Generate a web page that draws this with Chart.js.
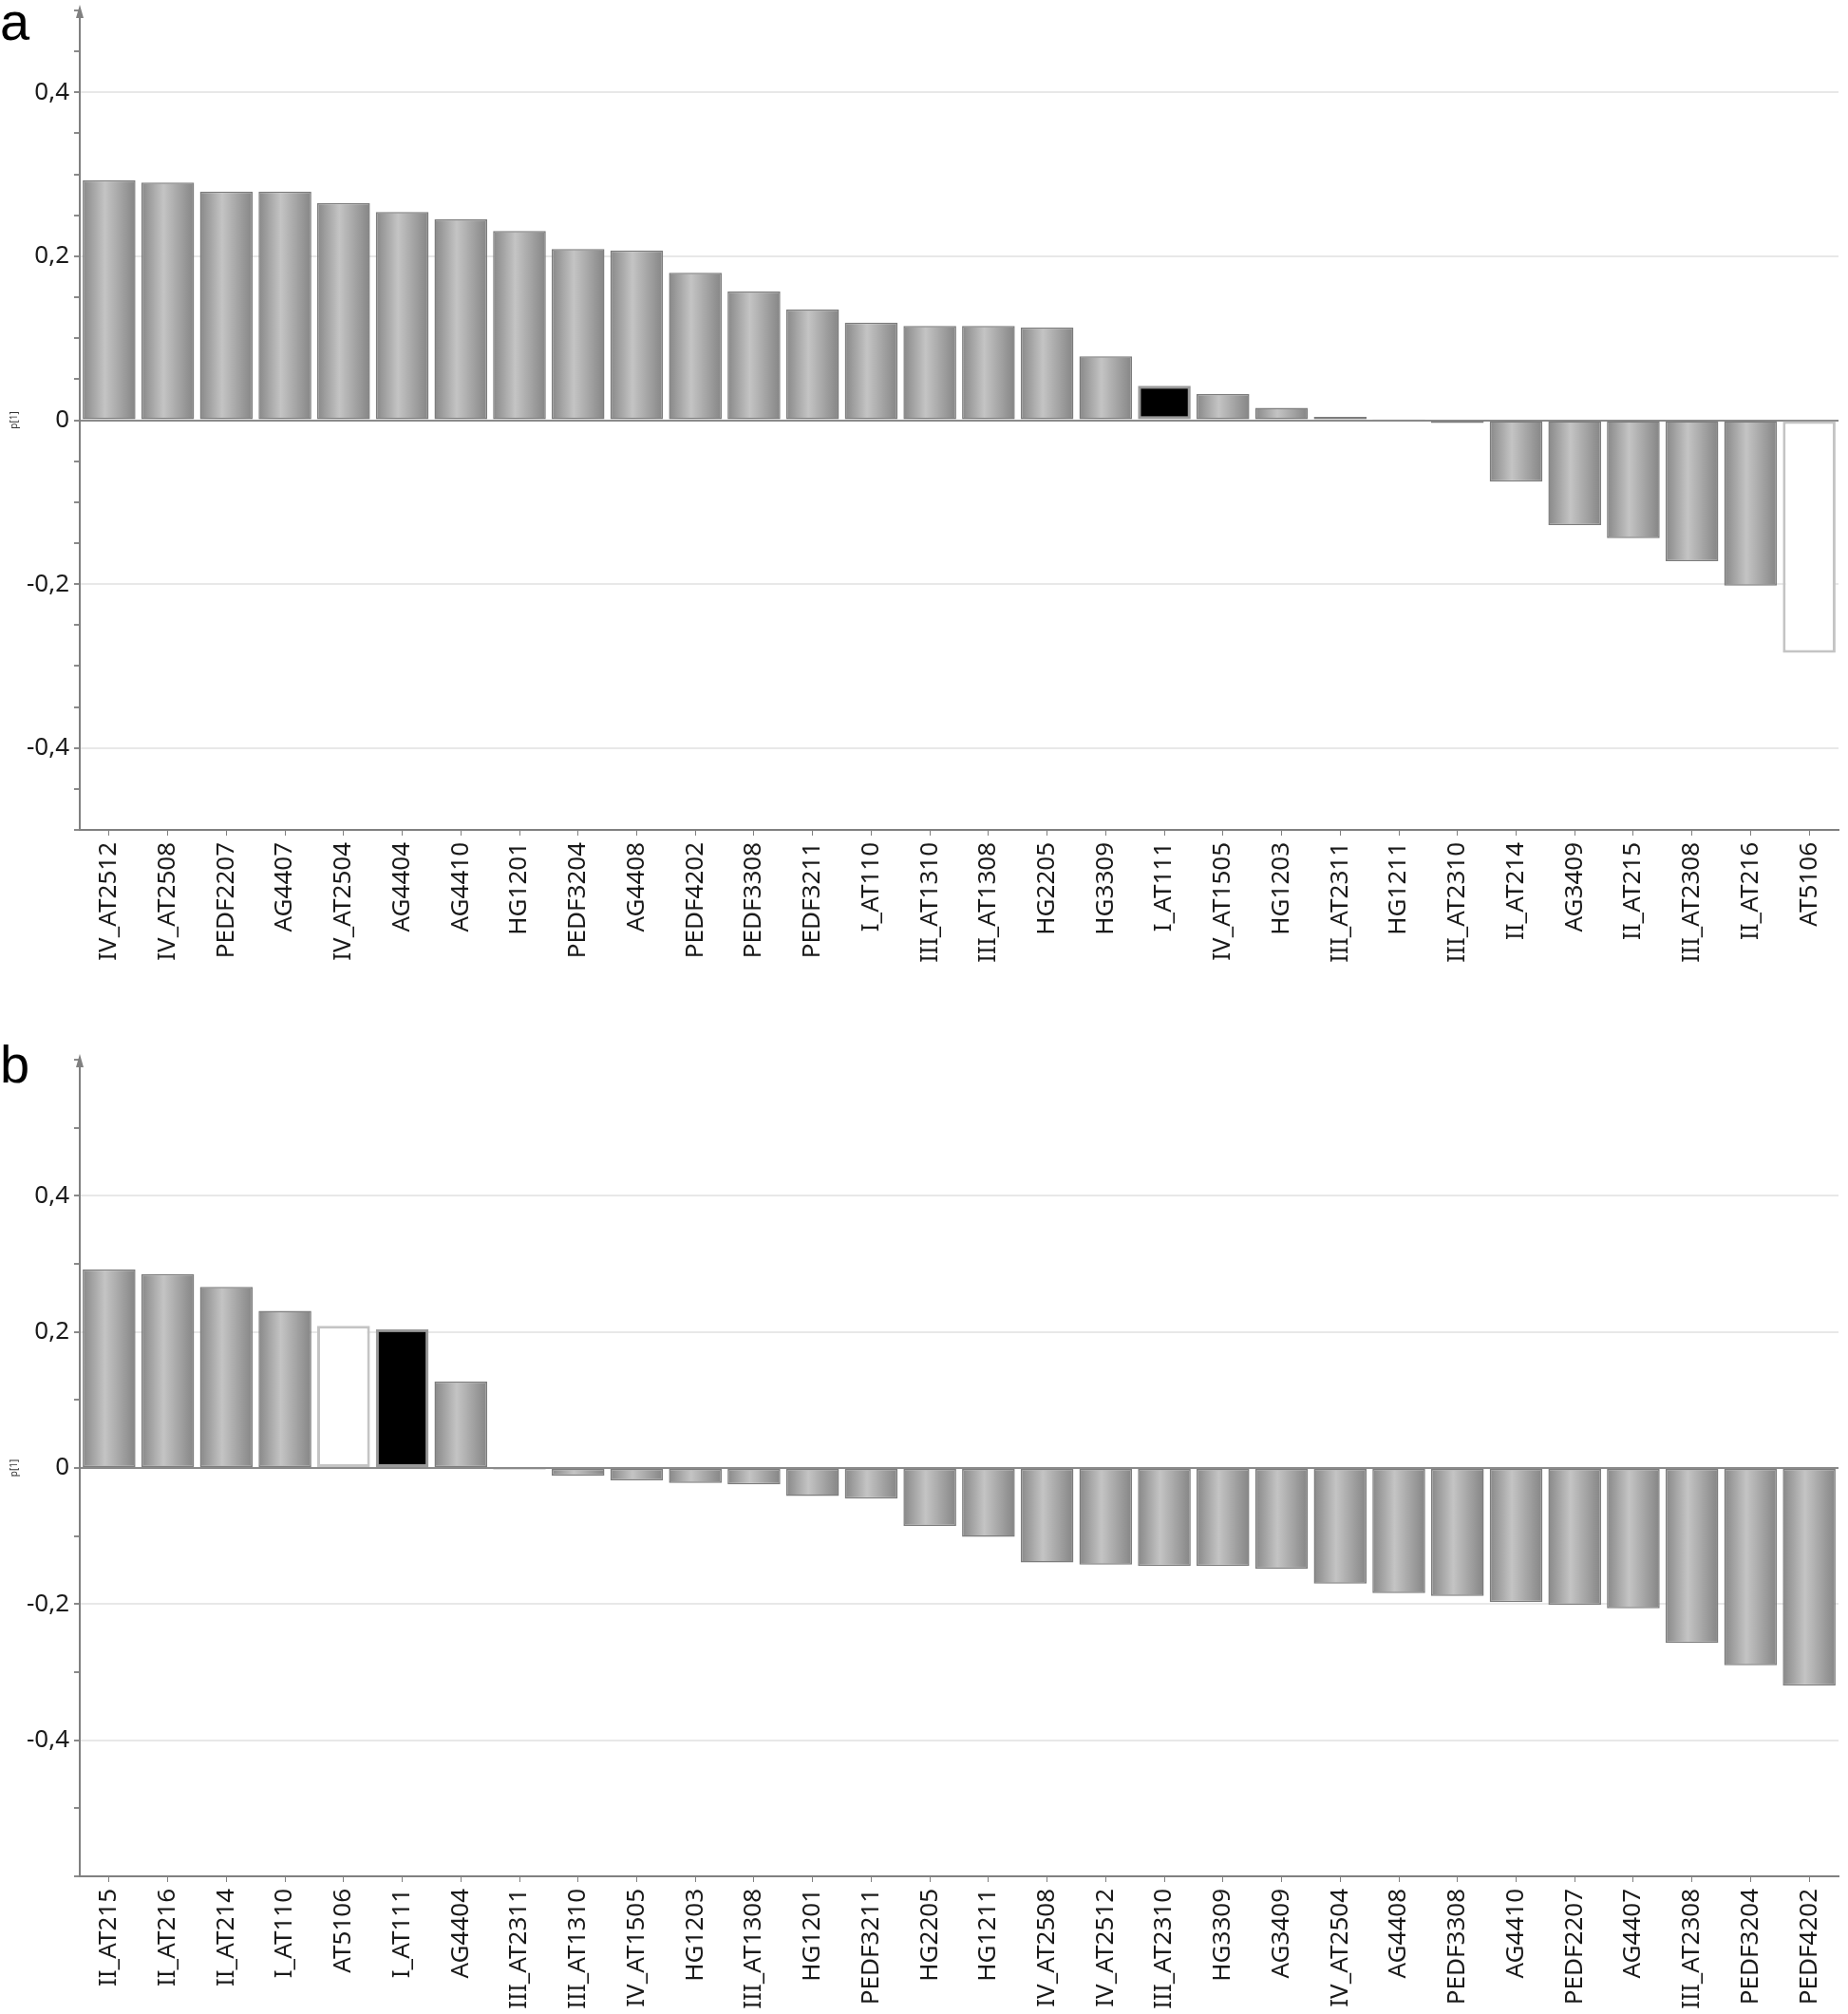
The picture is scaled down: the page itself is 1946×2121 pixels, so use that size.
<!DOCTYPE html>
<html>
<head>
<meta charset="utf-8">
<script src="https://cdn.jsdelivr.net/npm/chart.js@4.4.1/dist/chart.umd.min.js"></script>
<style>
  body { margin: 0; background: #fff; }
  #wrap { position: relative; width: 1946px; height: 2121px; overflow: hidden; background: #fff; }
  canvas { position: absolute; left: 0; }
  #chartA { top: 0; }
  #chartB { top: 1075px; }
  .panel { position: absolute; left: 0; font-family: "Liberation Sans", Arial, sans-serif; font-size: 56px; line-height: 56px; color: #000; }
</style>
</head>
<body>
<div id="wrap">
  <canvas id="chartA" width="1946" height="1040"></canvas>
  <canvas id="chartB" width="1946" height="1046"></canvas>
  <div class="panel" style="top:-5px">a</div>
  <div class="panel" style="top:1093px">b</div>
</div>
<script>
// panel a
const labelsA = ["IV_AT2512", "IV_AT2508", "PEDF2207", "AG4407", "IV_AT2504", "AG4404", "AG4410", "HG1201",
  "PEDF3204", "AG4408", "PEDF4202", "PEDF3308", "PEDF3211", "I_AT110", "III_AT1310", "III_AT1308", "HG2205",
  "HG3309", "I_AT111", "IV_AT1505", "HG1203", "III_AT2311", "HG1211", "III_AT2310", "II_AT214", "AG3409",
  "II_AT215", "III_AT2308", "II_AT216", "AT5106"];
const valuesA = [0.293, 0.290, 0.279, 0.279, 0.265, 0.254, 0.245, 0.231, 0.209, 0.207, 0.180, 0.157, 0.135,
  0.119, 0.115, 0.115, 0.113, 0.078, 0.042, 0.032, 0.015, 0.004, 0.0015, -0.0035, -0.075, -0.128, -0.144,
  -0.172, -0.202, -0.284];

// panel b
const labelsB = ["II_AT215", "II_AT216", "II_AT214", "I_AT110", "AT5106", "I_AT111", "AG4404", "III_AT2311",
  "III_AT1310", "IV_AT1505", "HG1203", "III_AT1308", "HG1201", "PEDF3211", "HG2205", "HG1211", "IV_AT2508",
  "IV_AT2512", "III_AT2310", "HG3309", "AG3409", "IV_AT2504", "AG4408", "PEDF3308", "AG4410", "PEDF2207",
  "AG4407", "III_AT2308", "PEDF3204", "PEDF4202"];
const valuesB = [0.292, 0.285, 0.266, 0.231, 0.209, 0.204, 0.127, -0.002, -0.011, -0.018, -0.022, -0.024,
  -0.041, -0.045, -0.085, -0.101, -0.139, -0.142, -0.144, -0.144, -0.148, -0.170, -0.184, -0.188, -0.197,
  -0.201, -0.206, -0.257, -0.290, -0.320];

// y ticks
const yMajorA = [-0.4, -0.2, 0, 0.2, 0.4];
const yMajorB = [-0.4, -0.2, 0, 0.2, 0.4];

const blackSample = "I_AT111";
const whiteSample = "AT5106";

const FONT = "'Noto Sans', 'Open Sans', sans-serif";

function isMajor(list, v) {
  return list.some(m => Math.abs(m - v) < 1e-6);
}

function fmt(v) {
  const r = Math.round(v * 10) / 10;
  return String(r).replace(".", ",");
}

function barFill(labels) {
  return function (ctx) {
    const name = labels[ctx.dataIndex];
    if (name === blackSample) return "#000000";
    if (name === whiteSample) return "#ffffff";
    const chart = ctx.chart;
    const xs = chart.scales.x;
    if (!xs || !xs.width) return "#a8a8a8";
    const cx = xs.getPixelForValue(ctx.dataIndex);
    const half = xs.width / labels.length * 0.9 / 2;
    const g = chart.ctx.createLinearGradient(cx - half, 0, cx + half, 0);
    g.addColorStop(0, "#888888");
    g.addColorStop(0.42, "#c4c4c4");
    g.addColorStop(1, "#858585");
    return g;
  };
}

function barBorder(labels) {
  return function (ctx) {
    const name = labels[ctx.dataIndex];
    if (name === blackSample) return "#9a9a9a";
    if (name === whiteSample) return "#c4c4c4";
    return "#7c7c7c";
  };
}

function barBorderWidth(labels) {
  return function (ctx) {
    const name = labels[ctx.dataIndex];
    if (name === blackSample || name === whiteSample) return 3;
    return 1.5;
  };
}

// arrow on top of the y axis
const axisArrow = {
  id: "axisArrow",
  afterDraw(chart) {
    const c = chart.ctx;
    const x = chart.scales.y.right;
    const top = chart.chartArea.top;
    c.save();
    c.fillStyle = "#808080";
    c.beginPath();
    c.moveTo(x, top - 6);
    c.lineTo(x - 4, top + 8);
    c.lineTo(x + 4, top + 8);
    c.closePath();
    c.fill();
    c.restore();
  }
};

function makeChart(id, labels, values, yMin, yMax, step, majors, padTop, xHeight) {
  return new Chart(document.getElementById(id), {
    type: "bar",
    data: {
      labels: labels,
      datasets: [{
        data: values,
        backgroundColor: barFill(labels),
        borderColor: barBorder(labels),
        borderWidth: barBorderWidth(labels),
        borderSkipped: false,
        categoryPercentage: 1.0,
        barPercentage: 0.9
      }]
    },
    options: {
      responsive: false,
      devicePixelRatio: 1,
      animation: false,
      layout: { padding: { top: padTop, right: 10, left: 0, bottom: 0 } },
      plugins: {
        legend: { display: false },
        tooltip: { enabled: false }
      },
      scales: {
        x: {
          offset: true,
          border: { color: "#808080", width: 2 },
          grid: {
            offset: false,
            drawOnChartArea: false,
            color: "#808080",
            tickColor: "#808080",
            tickLength: 6
          },
          ticks: {
            autoSkip: false,
            minRotation: 90,
            maxRotation: 90,
            padding: 7,
            color: "#1a1a1a",
            font: { family: FONT, size: 26 }
          },
          afterFit: s => { s.height = xHeight; }
        },
        y: {
          min: yMin,
          max: yMax,
          border: { color: "#808080", width: 2 },
          grid: {
            color: ctx => {
              const v = ctx.tick ? ctx.tick.value : 1;
              if (Math.abs(v) < 1e-6) return "#8a8a8a";
              return isMajor(majors, v) ? "#e8e8e8" : "rgba(0,0,0,0)";
            },
            lineWidth: 2,
            tickColor: "#8a8a8a",
            tickLength: 6
          },
          ticks: {
            stepSize: step,
            maxTicksLimit: 100,
            autoSkip: false,
            padding: 5,
            color: "#1a1a1a",
            font: { family: FONT, size: 26 },
            callback: v => isMajor(majors, v) ? fmt(v) : ""
          },
          title: {
            display: true,
            text: "p[1]",
            color: "#333",
            font: { family: FONT, size: 10 },
            padding: { top: 9, bottom: 0 }
          },
          afterFit: s => {
            s.width = 84;
            s.paddingTop = 0;
            s.paddingBottom = 0;
          }
        }
      }
    },
    plugins: [axisArrow]
  });
}

makeChart("chartA", labelsA, valuesA, -0.5, 0.5, 0.05, yMajorA, 11, 166);
makeChart("chartB", labelsB, valuesB, -0.6, 0.6, 0.1, yMajorB, 41, 145);
</script>
</body>
</html>
